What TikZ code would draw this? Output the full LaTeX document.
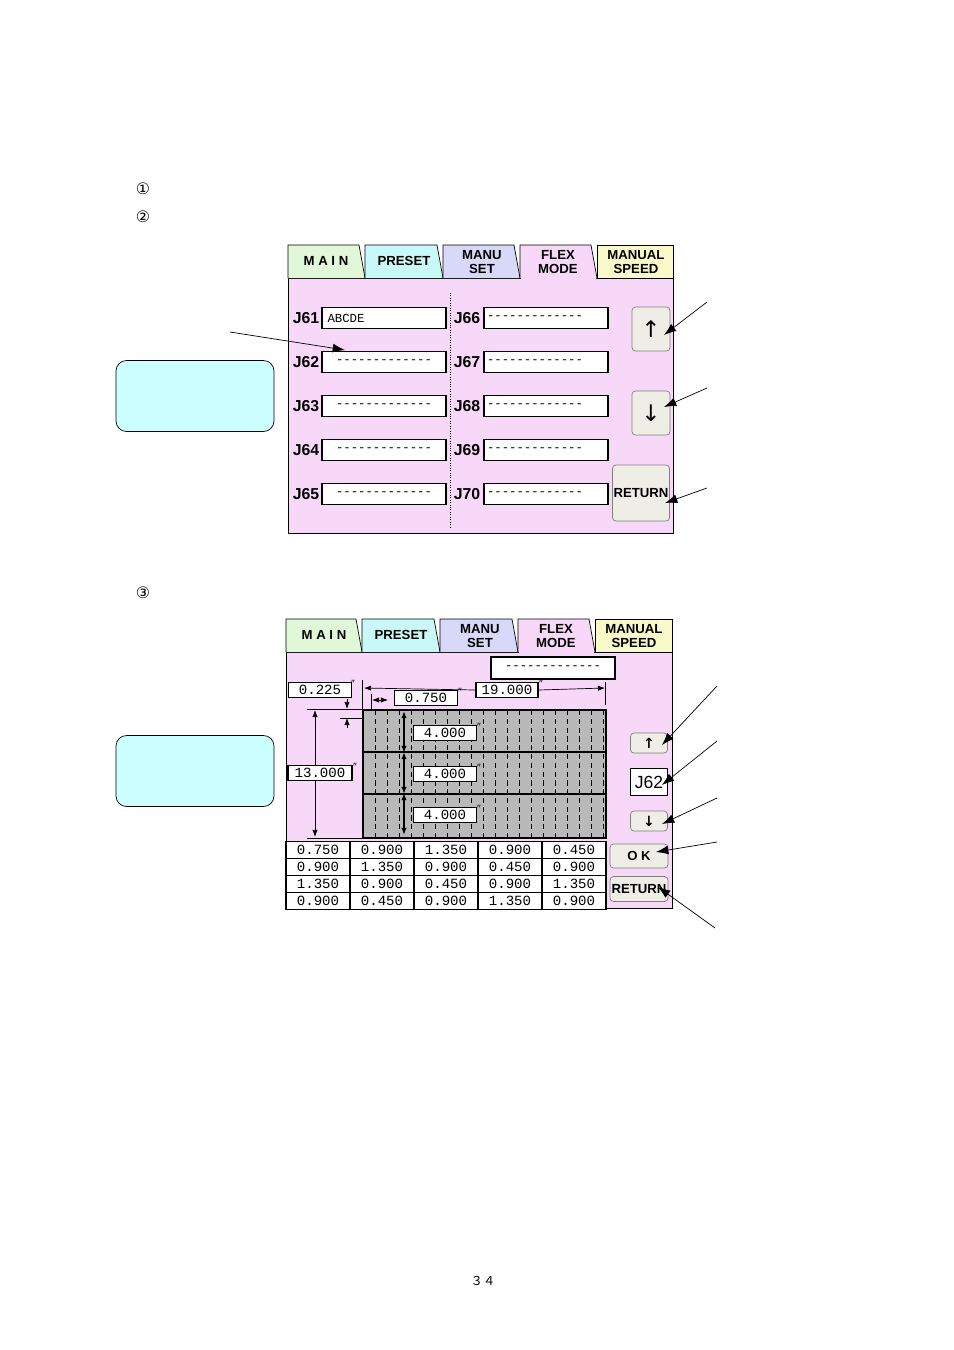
\documentclass[tikz,border=0pt]{standalone}
\usepackage{fontspec}
\setmainfont{Liberation Sans}
\setmonofont{Liberation Mono}
\newfontfamily\symfont{DejaVu Sans}
\newfontfamily\cjkfont{Noto Sans CJK JP}
\usetikzlibrary{positioning,arrows.meta}
\definecolor{scrpink}{HTML}{F8D8F8}
\definecolor{tabgreen}{HTML}{E0F8D8}
\definecolor{tabcyan}{HTML}{C8F8F8}
\definecolor{tablav}{HTML}{D8D8F8}
\definecolor{tabyel}{HTML}{F8F8C8}
\definecolor{notecyan}{HTML}{CCFFFF}
\definecolor{btngray}{HTML}{EEEEE6}
\tikzset{
  tablabel/.style={font=\fontsize{7.5}{7.5}\selectfont\bfseries, align=center, inner sep=0pt},
  jlabel/.style={font=\fontsize{9}{9}\selectfont\bfseries, inner sep=0pt},
  fieldbox/.style={draw=black, fill=white, thick, minimum width=124*0.02cm, minimum height=21*0.02cm, inner sep=1pt, font=\ttfamily\fontsize{7}{7}\selectfont},
  valbox/.style={draw=black, fill=white, thick, minimum width=63*0.02cm, minimum height=15*0.02cm, inner sep=0pt, font=\ttfamily\fontsize{8}{8}\selectfont},
  btn/.style={draw=gray, fill=btngray, rounded corners=2pt, inner sep=0pt, font=\fontsize{7.5}{7.5}\selectfont\bfseries},
  notebox/.style={draw=black, fill=notecyan, rounded corners=6pt},
  callout/.style={-{Latex[length=7pt,width=5pt]}, thin},
  dimarr/.style={{Latex[length=4pt,width=3pt]}-{Latex[length=4pt,width=3pt]}, thin},
  dimtip/.style={-{Latex[length=4pt,width=3pt]}, thin},
}
\begin{document}
\begin{tikzpicture}[x=0.02cm, y=-0.02cm]
  \useasboundingbox[fill=white] (0,0) rectangle (954,1350);
  % circled numbers
  \node[font=\symfont\fontsize{9}{9}\selectfont] (n1) at (143,189) {①};
  \node[font=\symfont\fontsize{9}{9}\selectfont] (n2) at (143,217) {②};
  \node[font=\symfont\fontsize{9}{9}\selectfont] (n3) at (143,593) {③};
  \node[font=\cjkfont\fontsize{7}{7}\selectfont] (pageno) at (483,1281) {３４};

  %% first screen
  \draw[fill=scrpink] (288,278) rectangle (673,533);
  \draw[fill=tabgreen] (288,278) -- (288,245) -- (359,245) -- (365,278);
  \draw[fill=tabcyan] (365,278) -- (365,245) -- (437,245) -- (443,278);
  \draw[fill=tablav] (443,278) -- (443,245) -- (514,245) -- (520,278);
  \draw[fill=scrpink] (520,278) -- (520,245) -- (591,245) -- (597,278);
  \draw[fill=tabyel] (597,278) -- (597,245) -- (673,245) -- (673,278);
  \draw[draw=scrpink, thick] (521,278) -- (596,278);
  \node[tablabel] (tmain) at (326,261) {M A I N};
  \node[tablabel] (tpreset) at (404,261) {PRESET};
  \node[tablabel] (tmanu) at (482,262) {MANU\\SET};
  \node[tablabel] (tflex) at (558,262) {FLEX\\MODE};
  \node[tablabel] (tspeed) at (636,262) {MANUAL\\SPEED};
  \draw[densely dotted] (450,293) -- (450,527);
  \foreach \i/\y in {1/318,2/362,3/406,4/450,5/494}{
    \pgfmathtruncatemacro{\jl}{60+\i}
    \pgfmathtruncatemacro{\jr}{65+\i}
    \node[jlabel] (jl\i) at (306,\y) {J\jl};
    \node[fieldbox] (fl\i) at (384,\y) {};
    \node[jlabel] (jr\i) at (467,\y) {J\jr};
    \node[fieldbox, text width=118*0.02cm] (fr\i) at (546,\y) {-------------};
  }
  \node[font=\ttfamily\fontsize{7}{7}\selectfont, anchor=west] at (fl1.west) {ABCDE};
  \foreach \i in {2,...,5}{
    \node[font=\ttfamily\fontsize{7}{7}\selectfont] at (fl\i) {-------------};
  }
  \node[btn, minimum width=38*0.02cm, minimum height=44*0.02cm, font=\symfont\fontsize{13}{13}\selectfont] (bup) at (651,329) {↑};
  \node[btn, minimum width=38*0.02cm, minimum height=44*0.02cm, font=\symfont\fontsize{13}{13}\selectfont] (bdown) at (651,413) {↓};
  \node[btn, minimum width=57*0.02cm, minimum height=56*0.02cm] (bret) at (641,493) {RETURN};
  \node[notebox, minimum width=158*0.02cm, minimum height=71*0.02cm] (note1) at (195,396) {};
  \coordinate (c1) at (230,332);
  \coordinate (c2) at (707,302);
  \coordinate (c3) at (707,388);
  \coordinate (c4) at (707,488);
  \draw[callout] (c1) -- (345,350);
  \draw[callout] (c2) -- (664,335);
  \draw[callout] (c3) -- (664,407);
  \draw[callout] (c4) -- (665,503);

  %% second screen
  \draw[fill=scrpink] (286,652) rectangle (672,908);
  \draw[fill=tabgreen] (286,652) -- (286,619) -- (356,619) -- (362,652);
  \draw[fill=tabcyan] (362,652) -- (362,619) -- (434,619) -- (440,652);
  \draw[fill=tablav] (440,652) -- (440,619) -- (512,619) -- (518,652);
  \draw[fill=scrpink] (518,652) -- (518,619) -- (589,619) -- (595,652);
  \draw[fill=tabyel] (595,652) -- (595,619) -- (672,619) -- (672,652);
  \draw[draw=scrpink, thick] (519,652) -- (594,652);
  \node[tablabel] (smain) at (324,635) {M A I N};
  \node[tablabel] (spreset) at (401,635) {PRESET};
  \node[tablabel] (smanu) at (480,636) {MANU\\SET};
  \node[tablabel] (sflex) at (556,636) {FLEX\\MODE};
  \node[tablabel] (sspeed) at (634,636) {MANUAL\\SPEED};
  \node[valbox, minimum width=124*0.02cm, minimum height=22*0.02cm, font=\ttfamily\fontsize{7}{7}\selectfont] (jname) at (553,668) {-------------};
  % dimensions
  \node[valbox] (dtop) at (320,690) {0.225};
  \node[valbox, minimum width=62*0.02cm] (dwid) at (507,690) {19.000};
  \node[valbox] (dpitch) at (426,698) {0.750};
  \node[valbox, minimum width=64*0.02cm] (dhgt) at (320,773) {13.000};
  \draw (362,680) -- (362,718);
  \draw (605,682) -- (605,705);
  \draw[dimtip] (dwid.west) -- (364,688);
  \draw[dimtip] (dwid.east) -- (605,688);
  \draw[dimarr] (372,700) -- (388,700);
  \draw (371,694) -- (371,718);
  \draw (307,709) -- (362,709);
  \draw (307,838) -- (362,838);
  \draw[dimtip] (dhgt.north -| 315,0) -- (315,710);
  \draw[dimtip] (dhgt.south -| 315,0) -- (315,837);
  \draw[dimtip] (347,699) -- (347,709);
  \draw[dimtip] (347,728) -- (347,718);
  \draw (340,718) -- (362,718);
  % grid
  \draw[fill=gray!55, thick] (363,710) rectangle (606,838);
  \draw[thick] (363,752) -- (606,752);
  \draw[thick] (363,794) -- (606,794);
  \foreach \x in {375,387,...,603}{
    \draw[densely dashed] (\x,710) -- (\x,838);
  }
  \foreach \k/\y in {1/733,2/774,3/815}{
    \draw[dimarr, thick] (404,\y-22) -- (404,\y+20);
    \node[valbox] (dband\k) at (445,\y) {4.000};
  }
  \foreach \n/\x/\y in {dtop/353/684,dwid/541/684,dpitch/460/692,dhgt/355/767,dband1/479/727,dband2/479/768,dband3/479/809}{
    \node[font=\fontsize{6}{6}\selectfont, inner sep=0pt] at (\x,\y) {″};
  }
  % table
  \foreach \r/\a/\b/\c/\d/\e [count=\ri] in {
      847/0.750/0.900/1.350/0.900/0.450,
      864/0.900/1.350/0.900/0.450/0.900,
      881/1.350/0.900/0.450/0.900/1.350,
      898/0.900/0.450/0.900/1.350/0.900}{
    \foreach \v [count=\ci] in {\a,\b,\c,\d,\e}{
      \node[valbox, minimum width=64*0.02cm, minimum height=17*0.02cm] (t\ri\ci) at (254+64*\ci,\r+3) {\v};
    }
  }
  % buttons
  \node[btn, minimum width=37*0.02cm, minimum height=20*0.02cm, font=\symfont\bfseries\fontsize{8}{8}\selectfont] (sup) at (649,743) {↑};
  \node[valbox, minimum width=37*0.02cm, minimum height=27*0.02cm, font=\fontsize{10}{10}\selectfont] (sjob) at (649,782) {J62};
  \node[btn, minimum width=37*0.02cm, minimum height=20*0.02cm, font=\symfont\bfseries\fontsize{8}{8}\selectfont] (sdown) at (649,821) {↓};
  \node[btn, minimum width=58*0.02cm, minimum height=24*0.02cm] (sok) at (639,856) {O K};
  \node[btn, minimum width=58*0.02cm, minimum height=25*0.02cm] (sret) at (639,889) {RETURN};
  \node[notebox, minimum width=158*0.02cm, minimum height=71*0.02cm] (note2) at (195,771) {};
  \coordinate (d1) at (717,686);
  \coordinate (d2) at (717,741);
  \coordinate (d3) at (717,798);
  \coordinate (d4) at (717,842);
  \coordinate (d5) at (715,928);
  \draw[callout] (d1) -- (662,745);
  \draw[callout] (d2) -- (662,785);
  \draw[callout] (d3) -- (662,824);
  \draw[callout] (d4) -- (656,852);
  \draw[callout] (d5) -- (658,887);
\end{tikzpicture}
\end{document}
